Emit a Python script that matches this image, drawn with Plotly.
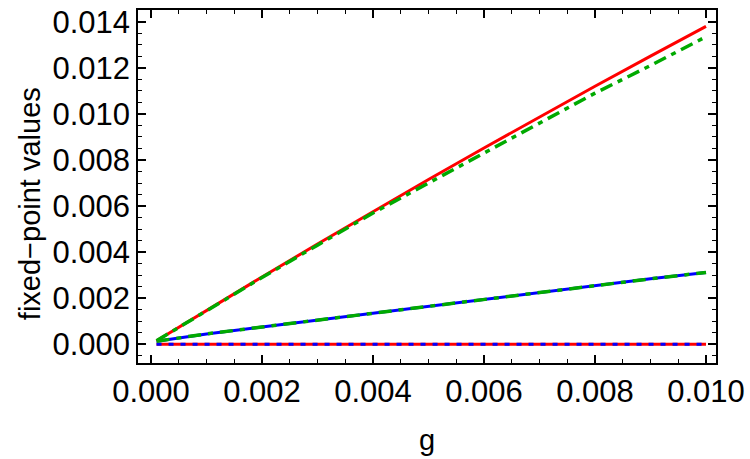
import plotly.graph_objects as go

g = [0.0001, 0.001, 0.002, 0.003, 0.004, 0.005, 0.006, 0.007, 0.008, 0.009, 0.010]
red_upper = [0.00015, 0.00147, 0.00292, 0.00435, 0.00576, 0.00715, 0.00852, 0.00987, 0.0112, 0.01251, 0.0138]
green_upper = [0.00015, 0.00146, 0.0029, 0.0043, 0.0057, 0.0070, 0.0083, 0.0096, 0.0109, 0.0121, 0.01335]
lower = [0.00013, 0.00045, 0.00075, 0.00105, 0.00135, 0.00166, 0.00196, 0.00226, 0.00256, 0.00284, 0.00312]
zero = [0.0, 0.0, 0.0, 0.0, 0.0, 0.0, 0.0, 0.0, 0.0, 0.0, 0.0]

RED = "rgb(255,0,0)"
GREEN = "rgb(0,170,0)"
BLUE = "rgb(0,0,255)"

fig = go.Figure()
fig.add_trace(go.Scatter(x=g, y=zero, mode="lines", line=dict(color=RED, width=3)))
fig.add_trace(go.Scatter(x=g, y=zero, mode="lines", line=dict(color=BLUE, width=3, dash="5px,7px")))
fig.add_trace(go.Scatter(x=g, y=lower, mode="lines", line=dict(color=BLUE, width=3)))
fig.add_trace(go.Scatter(x=g, y=lower, mode="lines", line=dict(color=GREEN, width=3.5, dash="13px,7px,5px,7px")))
fig.add_trace(go.Scatter(x=g, y=red_upper, mode="lines", line=dict(color=RED, width=3)))
fig.add_trace(go.Scatter(x=g, y=green_upper, mode="lines", line=dict(color=GREEN, width=3.5, dash="13px,6px,5px,6px")))

FONT = "Liberation Sans, Arial, sans-serif"
axis_common = dict(
    showgrid=False, zeroline=False, showline=True, mirror="allticks",
    linecolor="black", linewidth=1.5, ticks="inside", ticklen=8, tickwidth=1.5,
    tickcolor="black", tickformat=".3f",
    tickfont=dict(family=FONT, size=31, color="black"),
    title_font=dict(family=FONT, size=29, color="black"),
    minor=dict(ticks="inside", ticklen=4, tickwidth=1.2, tickcolor="black", dtick=0.0005, showgrid=False),
)

fig.update_xaxes(range=[-0.000234, 0.01018], dtick=0.002, tick0=0, title_text="g", title_standoff=22, **axis_common)
fig.update_yaxes(range=[-0.000813, 0.01451], dtick=0.002, tick0=0, **axis_common)

fig.add_annotation(
    text="fixed−point values", xref="paper", yref="paper",
    x=-0.187, y=0.4525, xanchor="center", yanchor="middle",
    textangle=-90, showarrow=False,
    font=dict(family=FONT, size=29, color="black"),
)

fig.update_layout(
    width=750, height=459,
    margin=dict(l=138, r=34, t=5, b=96),
    plot_bgcolor="white", paper_bgcolor="white",
    showlegend=False,
)

fig.write_html("out.html")
